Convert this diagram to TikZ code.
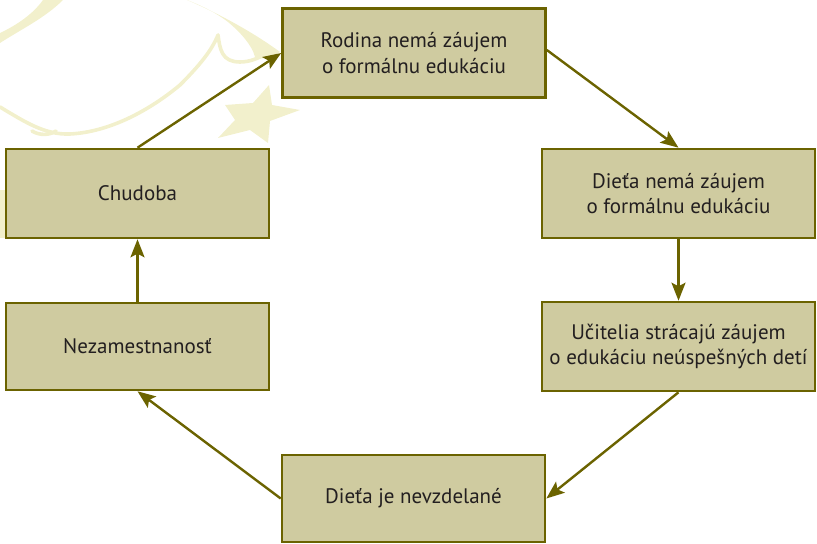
\documentclass[tikz,border=0pt]{standalone}
\usepackage{fontspec}
\setmainfont{PT Sans}
\usetikzlibrary{arrows.meta}
\definecolor{boxfill}{HTML}{CFCBA0}
\definecolor{boxline}{HTML}{6B6300}
\definecolor{textgray}{HTML}{231F20}
\definecolor{mapyellow}{HTML}{F2F0CC}
\begin{document}
\begin{tikzpicture}[x=0.5pt, y=-0.5pt,
  box/.style={draw=boxline, line width=1.3pt, fill=boxfill, text=textgray, align=center,
    font=\fontsize{10.5}{12.8}\selectfont, inner sep=0pt, minimum height=44.5pt},
  wide/.style={minimum width=131.5pt},
  wider/.style={minimum width=136.5pt},
  link/.style={draw=boxline, line width=1.2pt, -{Stealth[length=9pt, width=7pt, inset=1.8pt]}},
  faint/.style={draw=mapyellow, line width=1.8pt, line cap=round, line join=round}]
\useasboundingbox (0,0) rectangle (817,544);
% background map
\fill[mapyellow] (0,33) .. controls (17,25) and (33,14) .. (43,0) -- (63,0)
  .. controls (45,18) and (20,30) .. (0,43) -- cycle;
\fill[mapyellow] (187,0) .. controls (215,12) and (250,30) .. (280,52)
  .. controls (270,58) and (262,60) .. (255,57) .. controls (252,45) and (240,32) .. (228,22)
  .. controls (215,12) and (200,5) .. (187,0) -- cycle;
\draw[faint] (0,107) .. controls (25,122) and (45,135) .. (70,134)
  .. controls (110,132) and (150,110) .. (180,85) .. controls (200,65) and (212,50) .. (218,35)
  .. controls (220,50) and (222,62) .. (240,62) .. controls (250,62) and (258,58) .. (262,56);
\fill[mapyellow] (269,85) -- (272,105) -- (300,110) -- (270,121) -- (268,143)
  -- (250,130) -- (218,138) -- (235,120) -- (225,105) -- (253,103) -- cycle;
\fill[mapyellow] (0,190) rectangle (7,238);
\draw[faint] (32,131) .. controls (40,136) and (50,135) .. (56,131);
% boxes
\node[box, wide] (rodina) at (414,53) {Rodina nemá záujem\\o formálnu edukáciu};
\node[box, wider] (dieta) at (678.5,193.5) {Dieťa nemá záujem\\o formálnu edukáciu};
\node[box, wider] (ucitel) at (678.5,346.5) {Učitelia strácajú záujem\\o edukáciu neúspešných detí};
\node[box, wide, minimum height=43.5pt] (nevzdel) at (413.5,498.5) {Dieťa je nevzdelané};
\node[box, wide] (chudoba) at (137.5,193.5) {Chudoba};
\node[box, wide, minimum height=43.5pt] (nezam) at (137.5,346.5) {Nezamestnanosť};
% cycle arrows
\draw[link] (chudoba.north) -- (rodina.west);
\draw[link] (rodina.east) ++(0,-3) -- (dieta.north);
\draw[link] (dieta.south) -- (ucitel.north);
\draw[link] (ucitel.south) -- (nevzdel.east);
\draw[link] (nevzdel.west) -- (nezam.south);
\draw[link] (nezam.north) -- (chudoba.south);
\end{tikzpicture}
\end{document}
